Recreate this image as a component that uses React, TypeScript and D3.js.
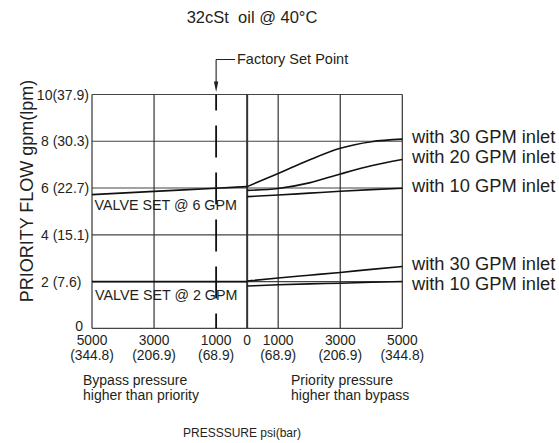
import * as d3 from 'd3'
import React from 'react'

// pressure (psi): negative = bypass side, positive = priority side
const pressLeft = [-5000, -3000, -1000, 0]
const pressRight = [0, 1000, 2000, 3000, 4000, 5000]

// valve set @ 6 GPM
const bypass6 = [5.72, 5.86, 5.99, 6.06]
const flow30at6 = [6.06, 6.62, 7.2, 7.7, 7.98, 8.09]
const flow20at6 = [5.9, 5.98, 6.22, 6.6, 6.95, 7.22]
const flow10at6 = [5.63, 5.7, 5.78, 5.86, 5.93, 5.99]

// valve set @ 2 GPM
const bypass2 = [2.0, 2.0, 2.0, 2.0]
const flow30at2 = [2.02, 2.15, 2.27, 2.39, 2.52, 2.64]
const flow10at2 = [1.81, 1.86, 1.9, 1.93, 1.97, 2.0]

const yTicks = [0, 2, 4, 6, 8, 10]
const yTickLabels = ['0', '2 (7.6)', '4 (15.1)', '6 (22.7)', '8 (30.3)', '10(37.9)']
const xTicks = [-5000, -3000, -1000, 0, 1000, 3000, 5000]
const xTickPsi = ['5000', '3000', '1000', '0', '1000', '3000', '5000']
const xTickBar = ['(344.8)', '(206.9)', '(68.9)', '', '(68.9)', '(206.9)', '(344.8)']
const xGrid = [-5000, -3000, 0, 1000, 3000, 5000]
const factorySet = -1000

const seriesLabels = ['with 30 GPM inlet', 'with 20 GPM inlet', 'with 10 GPM inlet', 'with 30 GPM inlet', 'with 10 GPM inlet']

export default function App() {
  const width = 559
  const height = 443
  const font = '"Liberation Sans", Arial, sans-serif'
  const ink = '#231f20'

  const x = d3.scaleLinear().domain([-5000, 5000]).range([92, 402.3])
  const y = d3.scaleLinear().domain([0, 10]).range([328.3, 94.5])

  const line = d3
    .line<[number, number]>()
    .x(d => x(d[0]))
    .y(d => y(d[1]))
    .curve(d3.curveMonotoneX)

  const zipL = (v: number[]) => pressLeft.map((p, i) => [p, v[i]] as [number, number])
  const zipR = (v: number[]) => pressRight.map((p, i) => [p, v[i]] as [number, number])

  const curves = [zipL(bypass6), zipL(bypass2)]
  const rightCurves = [flow30at6, flow20at6, flow10at6, flow30at2, flow10at2]

  // end labels sit just above the curve ends, pushed apart when too close
  const labelY: number[] = []
  rightCurves.forEach((v, i) => {
    let ly = y(v[v.length - 1]) - 3
    if (i > 0 && ly - labelY[i - 1] < 20) ly = labelY[i - 1] + 20
    labelY.push(ly)
  })

  const fx = x(factorySet)

  return (
    <svg width={width} height={height} style={{ position: 'absolute', left: 0, top: 0, background: '#fff' }} fontFamily={font}>
      <text x={252} y={23} textAnchor="middle" fontSize={16.5} fill={ink} style={{ whiteSpace: 'pre' }}>
        {'32cSt  oil @ 40°C'}
      </text>

      {/* grid */}
      {yTicks.map(t => (
        <line key={'h' + t} x1={x(-5000)} x2={x(5000)} y1={y(t)} y2={y(t)} stroke="#444" strokeWidth={1.2} />
      ))}
      {xGrid.map(t => (
        <line key={'v' + t} x1={x(t)} x2={x(t)} y1={y(10)} y2={y(0)} stroke="#333" strokeWidth={t === 0 ? 2 : 1.2} />
      ))}

      {/* factory set point */}
      <line x1={fx} x2={fx} y1={y(10)} y2={y(0)} stroke="#111" strokeWidth={1.8} strokeDasharray="32 15" strokeDashoffset={16} />
      <path d={`M${fx},59.5 H235 M${fx},59.5 V84`} fill="none" stroke={ink} strokeWidth={1.1} />
      <path d={`M${fx - 2.2},81.5 L${fx + 2.2},81.5 L${fx},92 Z`} fill={ink} />
      <text x={237} y={63.5} fontSize={14.5} fill={ink}>Factory Set Point</text>

      {/* curves */}
      {curves.map((c, i) => (
        <path key={'l' + i} d={line(c) || ''} fill="none" stroke="#111" strokeWidth={1.7} />
      ))}
      {rightCurves.map((v, i) => (
        <path key={'r' + i} d={line(zipR(v)) || ''} fill="none" stroke="#111" strokeWidth={1.6} />
      ))}
      {rightCurves.map((v, i) => (
        <text key={'t' + i} x={412} y={labelY[i]} dominantBaseline="central" fontSize={18.3} fill={ink}>
          {seriesLabels[i]}
        </text>
      ))}

      <text x={94.5} y={210} fontSize={14.3} fill={ink}>VALVE SET @ 6 GPM</text>
      <text x={95} y={300} fontSize={14.3} fill={ink}>VALVE SET @ 2 GPM</text>

      {/* y axis */}
      {yTicks.map((t, i) => {
        const lab = yTickLabels[i]
        if (t === 0) return <text key={'yl' + t} x={83} y={y(t) + 3} textAnchor="end" fontSize={14} fill={ink}>{lab}</text>
        if (t === 10) return <text key={'yl' + t} x={89} y={y(t)} textAnchor="end" dominantBaseline="central" fontSize={14} fill={ink}>{lab}</text>
        return <text key={'yl' + t} x={41} y={y(t)} dominantBaseline="central" fontSize={14} fill={ink}>{lab}</text>
      })}
      <text transform="translate(32.5,191) rotate(-90)" textAnchor="middle" fontSize={18} fill={ink}>
        PRIORITY FLOW gpm(lpm)
      </text>

      {/* x axis */}
      {xTicks.map((t, i) => (
        <g key={'xt' + i} transform={`translate(${x(t)},0)`} fontSize={13.8} fill={ink} textAnchor="middle">
          <text y={345}>{xTickPsi[i]}</text>
          <text y={359.5}>{xTickBar[i]}</text>
        </g>
      ))}
      <text x={83} y={385} fontSize={14} fill={ink}>Bypass pressure</text>
      <text x={83} y={400} fontSize={14} fill={ink}>higher than priority</text>
      <text x={291} y={385} fontSize={14} fill={ink}>Priority pressure</text>
      <text x={291} y={400} fontSize={14} fill={ink}>higher than bypass</text>
      <text x={242} y={437} textAnchor="middle" fontSize={12} fill={ink}>PRESSSURE psi(bar)</text>
    </svg>
  )
}
